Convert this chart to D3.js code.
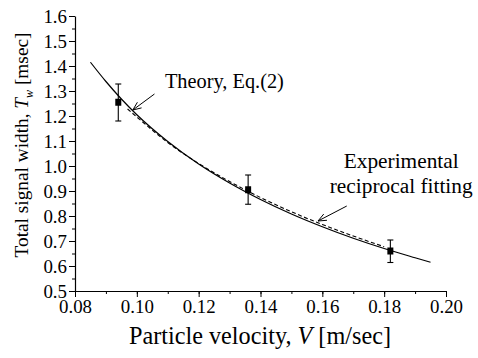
<!DOCTYPE html>
<html><head><meta charset="utf-8">
<script src="https://cdn.jsdelivr.net/npm/d3@7"></script>
<style>
html,body{margin:0;padding:0;background:#fff;}
</style></head>
<body><svg id="c" width="478" height="358"></svg>
<script>
// ---- data ----
const pointV = [0.094, 0.136, 0.182];
const pointT = [1.255, 0.905, 0.660];
const errLow = [1.180, 0.847, 0.614];
const errHigh = [1.328, 0.964, 0.704];

const theoryV = [0.085, 0.09, 0.095, 0.10, 0.11, 0.12, 0.13, 0.14, 0.15, 0.16, 0.17, 0.18, 0.19, 0.195];
const theoryT = [1.415, 1.338, 1.268, 1.205, 1.098, 1.008, 0.932, 0.866, 0.808, 0.757, 0.711, 0.670, 0.633, 0.615];

const fitV = [0.097, 0.10, 0.11, 0.12, 0.13, 0.14, 0.15, 0.16, 0.17, 0.18];
const fitT = [1.228, 1.196, 1.094, 1.010, 0.938, 0.874, 0.817, 0.766, 0.720, 0.677];

const xTicks = [0.08, 0.10, 0.12, 0.14, 0.16, 0.18, 0.20];
const yTicks = [0.5, 0.6, 0.7, 0.8, 0.9, 1.0, 1.1, 1.2, 1.3, 1.4, 1.5, 1.6];
const xLabel = "Particle velocity, ";
const yLabel = "Total signal width, ";

const FONT = "'Liberation Serif', 'Times New Roman', Times, 'DejaVu Serif', 'Noto Serif', serif";

// ---- layout ----
const svg = d3.select("#c").attr("font-family", FONT);
const x = d3.scaleLinear().domain([0.08, 0.20]).range([75, 446]);
const y = d3.scaleLinear().domain([0.5, 1.6]).range([291, 16]);

// fit font size so a text's rendered width matches the reference width
function fitWidth(sel, size, target) {
  sel.attr("font-size", size);
  const w = sel.node().getComputedTextLength();
  if (w > 0) sel.attr("font-size", (size * target / w).toFixed(2));
  return sel;
}

// minor ticks
const xMinor = d3.range(0.08, 0.2001, 0.01);
const yMinor = d3.range(0.5, 1.6001, 0.05);
svg.append("g").attr("transform", "translate(0,291)")
  .call(d3.axisBottom(x).tickValues(xMinor).tickSize(3).tickFormat(""))
  .call(g => g.select(".domain").remove())
  .selectAll("line").attr("stroke", "#000");
svg.append("g").attr("transform", "translate(75,0)")
  .call(d3.axisLeft(y).tickValues(yMinor).tickSize(3).tickFormat(""))
  .call(g => g.select(".domain").remove())
  .selectAll("line").attr("stroke", "#000");

// major axes
const gx = svg.append("g").attr("transform", "translate(0,291)")
  .call(d3.axisBottom(x).tickValues(xTicks).tickSize(6).tickPadding(3).tickFormat(d3.format(".2f")).tickSizeOuter(0));
gx.attr("font-family", FONT);
gx.select(".domain").attr("stroke", "#000").attr("stroke-width", 1.2);
const gy = svg.append("g").attr("transform", "translate(75,0)")
  .call(d3.axisLeft(y).tickValues(yTicks).tickSize(6).tickPadding(2).tickFormat(d3.format(".1f")).tickSizeOuter(0));
gy.attr("font-family", FONT);
gy.select(".domain").attr("stroke", "#000").attr("stroke-width", 1.2);

// tick label size fitted to reference ("0.08" ~ 33px wide)
const probe = gx.select(".tick text");
fitWidth(probe, 19, 33);
const tickSize = probe.attr("font-size");
gx.selectAll("text").attr("font-size", tickSize).attr("fill", "#000").attr("font-family", FONT);
gy.selectAll("text").attr("font-size", tickSize).attr("fill", "#000").attr("font-family", FONT);

// axis titles
const xt = svg.append("text").attr("x", 260).attr("y", 344).attr("text-anchor", "middle")
  .attr("fill", "#000").attr("font-family", FONT);
xt.append("tspan").text(xLabel);
xt.append("tspan").attr("font-style", "italic").text("V");
xt.append("tspan").text(" [m/sec]");
fitWidth(xt, 23, 262);

const yt = svg.append("text").attr("transform", "translate(28,145) rotate(-90)")
  .attr("text-anchor", "middle").attr("fill", "#000").attr("font-family", FONT);
yt.append("tspan").text(yLabel);
yt.append("tspan").attr("font-style", "italic").text("T");
yt.append("tspan").attr("font-style", "italic").attr("font-size", "0.62em").attr("dy", 5).text("w");
yt.append("tspan").attr("dy", -5).text(" [msec]");
fitWidth(yt, 20, 225);

// curves
const line = d3.line().x(d => x(d[0])).y(d => y(d[1])).curve(d3.curveMonotoneX);
svg.append("path").datum(theoryV.map((v, i) => [v, theoryT[i]]))
  .attr("d", line).attr("fill", "none").attr("stroke", "#000").attr("stroke-width", 1.2);
svg.append("path").datum(fitV.map((v, i) => [v, fitT[i]]))
  .attr("d", line).attr("fill", "none").attr("stroke", "#000").attr("stroke-width", 1.1)
  .attr("stroke-dasharray", "4,2.5");

// error bars & markers
const pts = pointV.map((v, i) => ({v, t: pointT[i], lo: errLow[i], hi: errHigh[i]}));
const eg = svg.append("g").attr("stroke", "#000").attr("stroke-width", 1.1);
pts.forEach(p => {
  eg.append("line").attr("x1", x(p.v)).attr("x2", x(p.v)).attr("y1", y(p.lo)).attr("y2", y(p.hi));
  eg.append("line").attr("x1", x(p.v) - 3).attr("x2", x(p.v) + 3).attr("y1", y(p.lo)).attr("y2", y(p.lo));
  eg.append("line").attr("x1", x(p.v) - 3).attr("x2", x(p.v) + 3).attr("y1", y(p.hi)).attr("y2", y(p.hi));
});
svg.append("g").selectAll("rect").data(pts).join("rect")
  .attr("x", d => x(d.v) - 3).attr("y", d => y(d.t) - 3.5).attr("width", 6).attr("height", 7).attr("fill", "#000");

// annotations
function arrow(x1, y1, x2, y2) {
  const g = svg.append("g").attr("stroke", "#000").attr("stroke-width", 1).attr("fill", "none");
  g.append("line").attr("x1", x1).attr("y1", y1).attr("x2", x2).attr("y2", y2);
  const a = Math.atan2(y1 - y2, x1 - x2), L = 9, s = 0.4;
  g.append("path").attr("d",
    `M${x2 + L * Math.cos(a + s)},${y2 + L * Math.sin(a + s)}L${x2},${y2}L${x2 + L * Math.cos(a - s)},${y2 + L * Math.sin(a - s)}`);
}
const theoryNote = {text: "Theory, Eq.(2)", v: 0.1091, t: 1.312, from: [0.1057, 1.288], to: [0.0987, 1.224]};
const tn = svg.append("text").attr("x", x(theoryNote.v)).attr("y", y(theoryNote.t))
  .attr("fill", "#000").attr("font-family", FONT).text(theoryNote.text);
fitWidth(tn, 20, 119);
arrow(x(theoryNote.from[0]), y(theoryNote.from[1]), x(theoryNote.to[0]), y(theoryNote.to[1]));

const fitNote = {lines: ["Experimental", "reciprocal fitting"], widths: [115, 143], v: 0.1855, t: [0.991, 0.891], from: [0.1679, 0.84], to: [0.1586, 0.78]};
fitNote.lines.forEach((l, i) => {
  const t = svg.append("text").attr("x", x(fitNote.v)).attr("y", y(fitNote.t[i])).attr("text-anchor", "middle")
    .attr("fill", "#000").attr("font-family", FONT).text(l);
  fitWidth(t, 20, fitNote.widths[i]);
});
arrow(x(fitNote.from[0]), y(fitNote.from[1]), x(fitNote.to[0]), y(fitNote.to[1]));
</script>
</body></html>
